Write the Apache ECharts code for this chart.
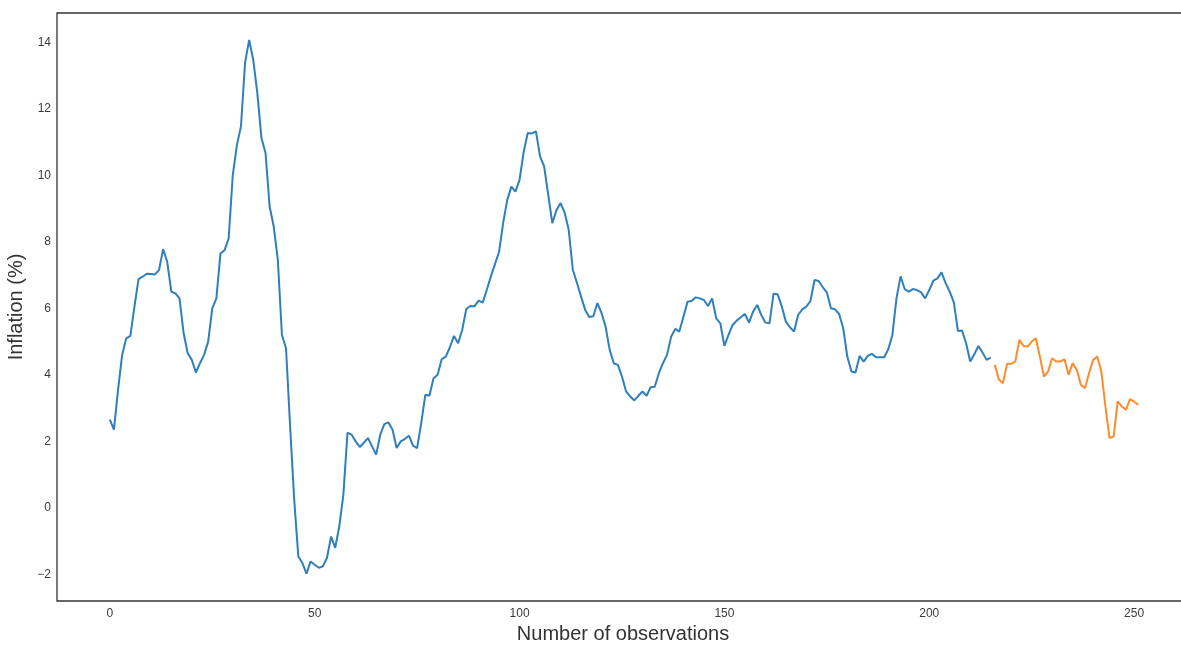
<!DOCTYPE html>
<html>
<head>
<meta charset="utf-8">
<title>Inflation</title>
<script src="https://cdn.jsdelivr.net/npm/echarts@6/dist/echarts.min.js"></script>
<style>
  html, body { margin: 0; padding: 0; background: #ffffff; }
  #chart { width: 1181px; height: 645px; }
</style>
</head>
<body>
<div id="chart"></div>
<script>
// Observed inflation series (observations 0..215)
const observedStart = 0;
const observedValues = [
  2.65, 2.35, 3.55, 4.6, 5.1, 5.17, 6.05, 6.88, 6.95, 7.04,
  7.03, 7.02, 7.15, 7.78, 7.4, 6.5, 6.45, 6.3, 5.26, 4.65,
  4.45, 4.07, 4.35, 4.6, 5.0, 6.0, 6.3, 7.65, 7.75, 8.1,
  10.0, 10.9, 11.47, 13.38, 14.07, 13.47, 12.47, 11.12, 10.67, 9.06,
  8.46, 7.46, 5.2, 4.8, 2.45, 0.24, -1.46, -1.66, -1.98, -1.61,
  -1.71, -1.8, -1.76, -1.5, -0.86, -1.2, -0.56, 0.4, 2.26, 2.2,
  2.0, 1.83, 1.96, 2.1, 1.85, 1.6, 2.2, 2.52, 2.57, 2.35,
  1.8, 2.0, 2.07, 2.17, 1.87, 1.8, 2.55, 3.4, 3.37, 3.9,
  4.0, 4.47, 4.55, 4.83, 5.17, 4.95, 5.35, 5.98, 6.07, 6.06,
  6.23, 6.17, 6.55, 6.96, 7.33, 7.7, 8.57, 9.26, 9.66, 9.51,
  9.86, 10.7, 11.27, 11.26, 11.32, 10.57, 10.27, 9.41, 8.56, 8.95,
  9.17, 8.88, 8.36, 7.16, 6.77, 6.36, 5.96, 5.74, 5.76, 6.16,
  5.86, 5.45, 4.75, 4.35, 4.3, 3.95, 3.5, 3.35, 3.23, 3.37,
  3.5, 3.37, 3.63, 3.64, 4.05, 4.35, 4.6, 5.15, 5.38, 5.3,
  5.75, 6.2, 6.22, 6.33, 6.3, 6.25, 6.07, 6.3, 5.7, 5.55,
  4.87, 5.2, 5.5, 5.63, 5.73, 5.83, 5.57, 5.9, 6.1, 5.8,
  5.57, 5.55, 6.44, 6.42, 6.06, 5.6, 5.43, 5.3, 5.8, 5.97,
  6.05, 6.22, 6.85, 6.82, 6.64, 6.48, 6.0, 5.97, 5.83, 5.4,
  4.55, 4.1, 4.07, 4.57, 4.4, 4.57, 4.63, 4.53, 4.53, 4.53,
  4.77, 5.2, 6.3, 6.96, 6.58, 6.5, 6.58, 6.55, 6.48, 6.3,
  6.55, 6.83, 6.9, 7.08, 6.76, 6.5, 6.18, 5.32, 5.33, 4.95,
  4.4, 4.62, 4.87, 4.67, 4.45, 4.52
];

// Forecast segment (observations 216..251)
const forecastStart = 216;
const forecastValues = [
  4.3, 3.85, 3.75, 4.33, 4.33, 4.4, 5.05, 4.87, 4.85, 5.0,
  5.1, 4.55, 3.95, 4.1, 4.5, 4.4, 4.4, 4.47, 4.0, 4.35,
  4.15, 3.7, 3.6, 4.05, 4.45, 4.55, 4.1, 3.05, 2.1, 2.15,
  3.2, 3.05, 2.95, 3.27, 3.2, 3.1
];

const xTickValues = [0, 50, 100, 150, 200, 250];
const yTickValues = [-2, 0, 2, 4, 6, 8, 10, 12, 14];

const toPairs = (start, values) => values.map((v, i) => [start + i, v]);
// typographic minus sign for negative tick labels
const fmtTick = (v) => String(v).replace('-', '\u2212');

const chart = echarts.init(document.getElementById('chart'), null, { renderer: 'canvas' });

const tickLabelStyle = {
  color: '#3a3a3a',
  fontSize: 12,
  fontFamily: 'Liberation Sans, Arial, sans-serif',
  formatter: fmtTick
};

const titleStyle = {
  color: '#333333',
  fontSize: 20,
  fontFamily: 'Liberation Sans, Arial, sans-serif'
};

chart.setOption({
  animation: false,
  backgroundColor: '#ffffff',
  grid: {
    left: 57,
    right: -8,
    top: 13,
    bottom: 44,
    show: true,
    borderColor: '#333333',
    borderWidth: 1.3,
    containLabel: false,
    outerBoundsMode: 'none'
  },
  xAxis: {
    type: 'value',
    min: -12.9,
    max: 263.4,
    name: 'Number of observations',
    nameLocation: 'middle',
    nameGap: 22,
    nameTextStyle: titleStyle,
    axisLine: { show: false },
    axisTick: { show: false, customValues: xTickValues },
    splitLine: { show: false },
    axisLabel: Object.assign({ customValues: xTickValues, margin: 7 }, tickLabelStyle)
  },
  yAxis: {
    type: 'value',
    min: -2.8,
    max: 14.88,
    name: 'Inflation (%)',
    nameLocation: 'middle',
    nameGap: 28,
    nameTextStyle: titleStyle,
    axisLine: { show: false },
    axisTick: { show: false, customValues: yTickValues },
    splitLine: { show: false },
    axisLabel: Object.assign({ customValues: yTickValues, margin: 6 }, tickLabelStyle)
  },
  series: [
    {
      name: 'Observed',
      type: 'line',
      data: toPairs(observedStart, observedValues),
      showSymbol: false,
      symbol: 'none',
      lineStyle: { color: '#2f7fbd', width: 2 },
      z: 2
    },
    {
      name: 'Forecast',
      type: 'line',
      data: toPairs(forecastStart, forecastValues),
      showSymbol: false,
      symbol: 'none',
      lineStyle: { color: '#ff8c2a', width: 2 },
      z: 2
    }
  ]
});
</script>
</body>
</html>
